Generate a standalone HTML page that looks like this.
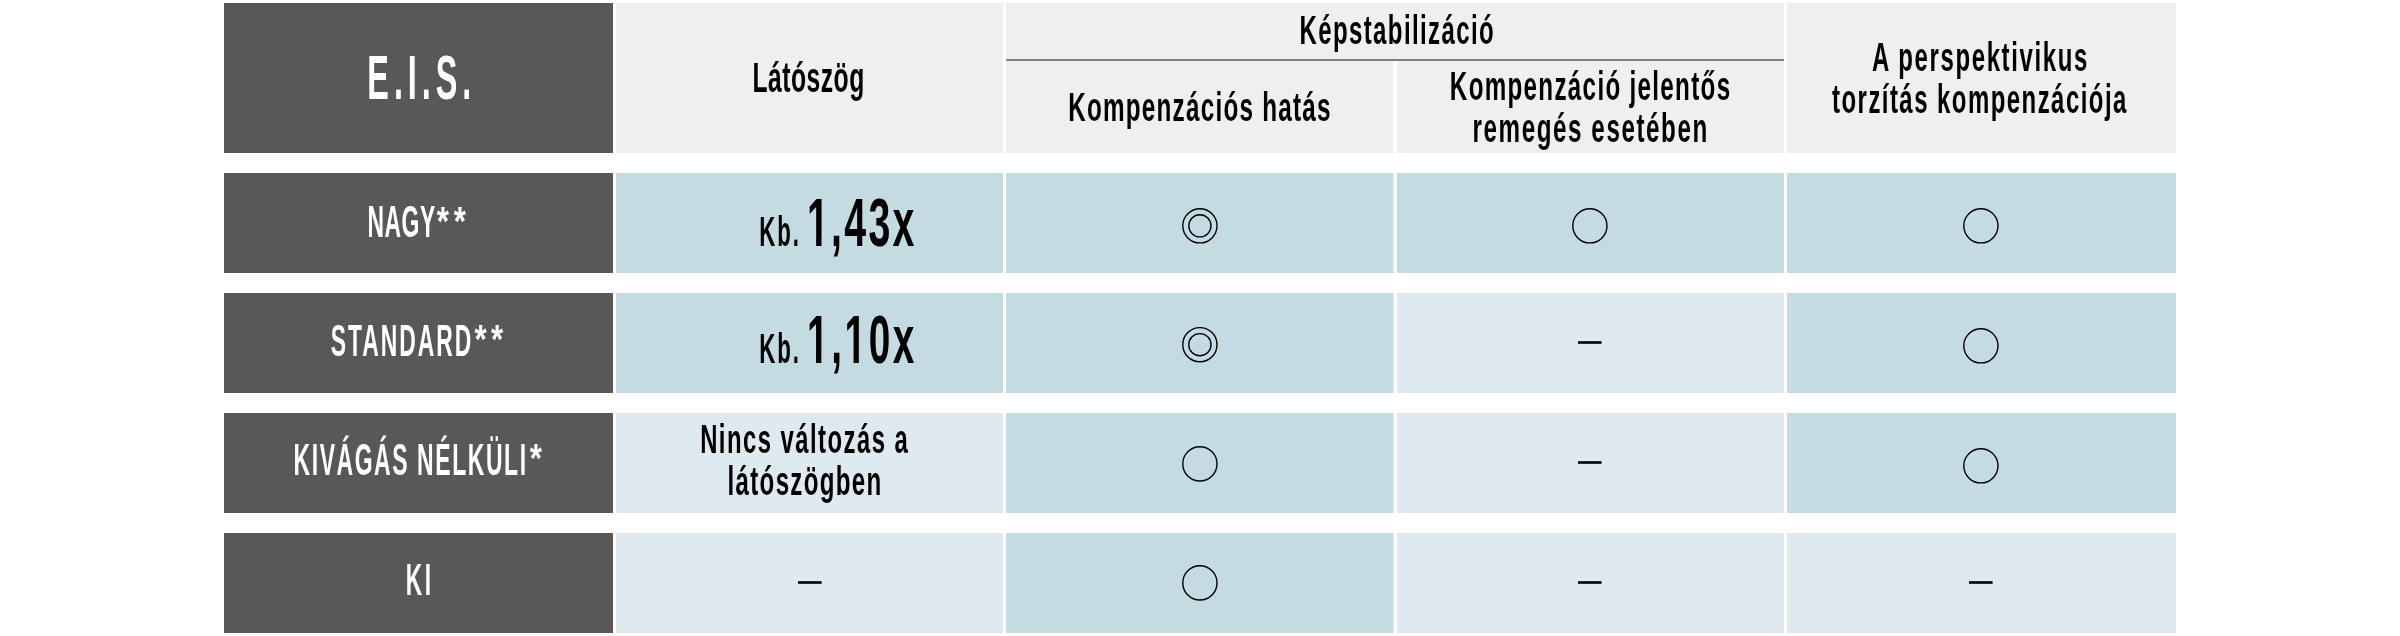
<!DOCTYPE html>
<html lang="hu"><head><meta charset="utf-8"><title>E.I.S.</title>
<style>
html,body{margin:0;padding:0;background:#fff;}
body{width:2400px;height:636px;overflow:hidden;}
svg{display:block;will-change:transform;}
svg text{font-family:"Liberation Sans",Arial,sans-serif;font-weight:700;}
</style></head><body>
<svg width="2400" height="636" viewBox="0 0 2400 636">
<rect x="224" y="3" width="389" height="150" fill="#5a5758"/>
<rect x="616" y="3" width="387" height="150" fill="#efefef"/>
<rect x="1006" y="3" width="778" height="150" fill="#efefef"/>
<rect x="1393.5" y="61" width="3.5" height="92" fill="#fff"/>
<rect x="1787" y="3" width="389" height="150" fill="#efefef"/>
<rect x="224" y="173" width="389" height="100" fill="#5a5758"/>
<rect x="616" y="173" width="387" height="100" fill="#c5dbe2"/>
<rect x="1006" y="173" width="387.5" height="100" fill="#c5dbe2"/>
<rect x="1397" y="173" width="387" height="100" fill="#c5dbe2"/>
<rect x="1787" y="173" width="389" height="100" fill="#c5dbe2"/>
<rect x="224" y="293" width="389" height="100" fill="#5a5758"/>
<rect x="616" y="293" width="387" height="100" fill="#c5dbe2"/>
<rect x="1006" y="293" width="387.5" height="100" fill="#c5dbe2"/>
<rect x="1397" y="293" width="387" height="100" fill="#dfeaf0"/>
<rect x="1787" y="293" width="389" height="100" fill="#c5dbe2"/>
<rect x="224" y="413" width="389" height="100" fill="#5a5758"/>
<rect x="616" y="413" width="387" height="100" fill="#dfeaf0"/>
<rect x="1006" y="413" width="387.5" height="100" fill="#c5dbe2"/>
<rect x="1397" y="413" width="387" height="100" fill="#dfeaf0"/>
<rect x="1787" y="413" width="389" height="100" fill="#c5dbe2"/>
<rect x="224" y="533" width="389" height="100" fill="#5a5758"/>
<rect x="616" y="533" width="387" height="100" fill="#dfeaf0"/>
<rect x="1006" y="533" width="387.5" height="100" fill="#c5dbe2"/>
<rect x="1397" y="533" width="387" height="100" fill="#dfeaf0"/>
<rect x="1787" y="533" width="389" height="100" fill="#dfeaf0"/>
<rect x="1006" y="59" width="778" height="2" fill="#808080"/>
<text transform="translate(367.35 98.90) scale(0.5200 1)" font-size="62.35" letter-spacing="9.49" fill="#fff">E.I.S.</text>
<text transform="translate(752.52 92.00) scale(0.5900 1)" font-size="41.86" letter-spacing="0.82" fill="#000">Látószög</text>
<text transform="translate(1299.46 44.10) scale(0.5900 1)" font-size="40.74" letter-spacing="2.34" fill="#000">Képstabilizáció</text>
<text transform="translate(1068.14 120.60) scale(0.5900 1)" font-size="41.16" letter-spacing="2.08" fill="#000">Kompenzációs hatás</text>
<text transform="translate(1449.85 99.60) scale(0.5900 1)" font-size="41.02" letter-spacing="2.22" fill="#000">Kompenzáció jelentős</text>
<text transform="translate(1472.55 141.50) scale(0.5900 1)" font-size="41.02" letter-spacing="2.67" fill="#000">remegés esetében</text>
<text transform="translate(1871.98 70.90) scale(0.5900 1)" font-size="40.60" letter-spacing="2.77" fill="#000">A perspektivikus</text>
<text transform="translate(1832.06 112.50) scale(0.5900 1)" font-size="40.60" letter-spacing="2.48" fill="#000">torzítás kompenzációja</text>
<text transform="translate(367.53 237.40) scale(0.5200 1)" font-size="44.04" letter-spacing="0.99" fill="#fff">NAGY</text>
<text transform="translate(330.71 355.80) scale(0.5200 1)" font-size="44.04" letter-spacing="3.80" fill="#fff">STANDARD</text>
<text transform="translate(293.52 474.80) scale(0.5200 1)" font-size="44.19" letter-spacing="3.02" fill="#fff">KIVÁGÁS NÉLKÜLI</text>
<text transform="translate(405.63 594.80) scale(0.5200 1)" font-size="43.75" letter-spacing="4.96" fill="#fff">KI</text>
<text transform="translate(759.27 245.70) scale(0.5200 1)" font-size="42.73" letter-spacing="3.76" fill="#000">Kb.</text>
<text transform="translate(806.94 246.30) scale(0.5700 1)" font-size="68.90" letter-spacing="4.03" fill="#000">1,43x</text>
<text transform="translate(759.26 362.80) scale(0.5200 1)" font-size="42.88" letter-spacing="3.65" fill="#000">Kb.</text>
<text transform="translate(806.97 363.00) scale(0.5700 1)" font-size="68.02" letter-spacing="4.56" fill="#000">1,10x</text>
<text transform="translate(700.17 453.20) scale(0.5900 1)" font-size="40.47" letter-spacing="2.47" fill="#000">Nincs változás a</text>
<text transform="translate(727.61 495.40) scale(0.5900 1)" font-size="40.88" letter-spacing="2.19" fill="#000">látószögben</text>
<text transform="translate(436.65 234.51) scale(0.7874 1)" font-size="39.73" fill="#fff">*</text>
<text transform="translate(453.75 234.51) scale(0.7874 1)" font-size="39.73" fill="#fff">*</text>
<text transform="translate(474.50 353.01) scale(0.7874 1)" font-size="39.73" fill="#fff">*</text>
<text transform="translate(490.95 353.01) scale(0.7874 1)" font-size="39.73" fill="#fff">*</text>
<text transform="translate(529.70 471.51) scale(0.7874 1)" font-size="39.73" fill="#fff">*</text>
<rect x="808.34" y="238.57" width="7.76" height="8.33" fill="#c5dbe2"/>
<rect x="821.50" y="238.57" width="7.19" height="8.33" fill="#c5dbe2"/>
<rect x="808.35" y="355.36" width="7.68" height="8.24" fill="#c5dbe2"/>
<rect x="821.34" y="355.36" width="7.12" height="8.24" fill="#c5dbe2"/>
<rect x="845.88" y="355.36" width="7.68" height="8.24" fill="#c5dbe2"/>
<rect x="858.88" y="355.36" width="7.12" height="8.24" fill="#c5dbe2"/>
<circle cx="1199.9" cy="225.8" r="17.1" fill="none" stroke="#000" stroke-width="1.4"/>
<circle cx="1199.9" cy="225.8" r="11.1" fill="none" stroke="#000" stroke-width="1.4"/>
<circle cx="1589.9" cy="225.8" r="17.1" fill="none" stroke="#000" stroke-width="1.4"/>
<circle cx="1980.9" cy="225.8" r="17.1" fill="none" stroke="#000" stroke-width="1.4"/>
<circle cx="1199.9" cy="344.7" r="17.1" fill="none" stroke="#000" stroke-width="1.4"/>
<circle cx="1199.9" cy="344.7" r="11.1" fill="none" stroke="#000" stroke-width="1.4"/>
<circle cx="1980.9" cy="345.8" r="17.1" fill="none" stroke="#000" stroke-width="1.4"/>
<circle cx="1199.9" cy="463.9" r="17.1" fill="none" stroke="#000" stroke-width="1.4"/>
<circle cx="1980.9" cy="465.8" r="17.1" fill="none" stroke="#000" stroke-width="1.4"/>
<circle cx="1199.9" cy="582.9" r="17.1" fill="none" stroke="#000" stroke-width="1.4"/>
<rect x="1578" y="341.2" width="23.6" height="2.6" fill="#000"/>
<rect x="1578" y="461.2" width="23.6" height="2.6" fill="#000"/>
<rect x="798" y="581.2" width="23.6" height="2.6" fill="#000"/>
<rect x="1578" y="581.2" width="23.6" height="2.6" fill="#000"/>
<rect x="1969" y="581.2" width="23.6" height="2.6" fill="#000"/>
</svg>
</body></html>
